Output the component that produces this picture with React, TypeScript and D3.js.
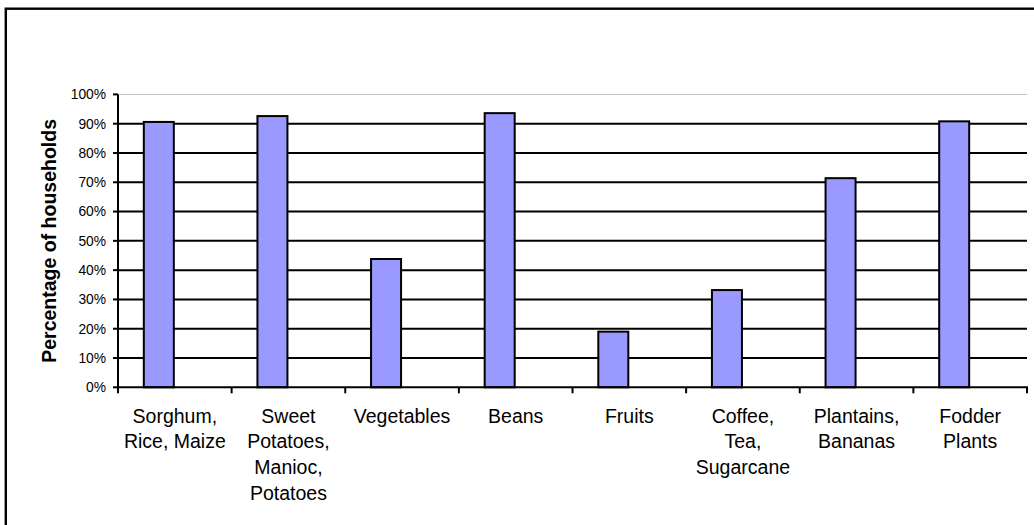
import React from "react";
import * as d3 from "d3";

const categories: string[][] = [
  ["Sorghum,", "Rice, Maize"],
  ["Sweet", "Potatoes,", "Manioc,", "Potatoes"],
  ["Vegetables"],
  ["Beans"],
  ["Fruits"],
  ["Coffee,", "Tea,", "Sugarcane"],
  ["Plantains,", "Bananas"],
  ["Fodder", "Plants"],
];
const values: number[] = [90.6, 92.6, 43.8, 93.6, 19.0, 33.2, 71.4, 90.8];
const yTicks: number[] = [0, 10, 20, 30, 40, 50, 60, 70, 80, 90, 100];
const seriesKeys: string[] = ["households", "blank"];
const yTitle = "Percentage of households";

const W = 1034;
const H = 525;
const plotLeft = 118;
const plotRight = 1027;
const plotTop = 94.4;
const plotBottom = 387.3;
const font = "'Liberation Sans', Arial, Helvetica, sans-serif";

export default function App() {
  const keys = categories.map((c) => c.join(" "));
  const x = d3.scaleBand<string>().domain(keys).range([plotLeft, plotRight]).paddingInner(0).paddingOuter(0);
  const xi = d3
    .scaleBand<string>()
    .domain(seriesKeys)
    .range([0, x.bandwidth()])
    .paddingInner(0)
    .paddingOuter(0.775);
  const y = d3.scaleLinear().domain([0, 100]).range([plotBottom, plotTop]);
  const tickFmt = (v: number) => `${v}%`;

  return (
    <svg
      width={W}
      height={H}
      style={{ position: "absolute", left: 0, top: 0, background: "#fff" }}
      fontFamily={font}
    >
      <rect x={0} y={0} width={W} height={H} fill="#fff" />
      {/* outer frame */}
      <rect x={5.8} y={8.7} width={W + 20} height={H + 20} fill="none" stroke="#000" strokeWidth={2.4} />

      {/* gridlines */}
      {yTicks
        .filter((t) => t > 0)
        .map((t) => (
          <line
            key={`g${t}`}
            x1={plotLeft}
            x2={plotRight}
            y1={y(t)}
            y2={y(t)}
            stroke={t === 100 ? "#c0c0c0" : "#000"}
            strokeWidth={t === 100 ? 1 : 2}
          />
        ))}

      {/* bars */}
      {values.map((v, i) => {
        const bx = (x(keys[i]) as number) + (xi(seriesKeys[0]) as number);
        const bw = xi.bandwidth();
        return (
          <rect
            key={`b${i}`}
            x={bx + 1}
            y={y(v)}
            width={bw - 2}
            height={y(0) - y(v)}
            fill="#9999FF"
            stroke="#000"
            strokeWidth={2}
          />
        );
      })}

      {/* y axis */}
      <line x1={plotLeft} x2={plotLeft} y1={plotTop} y2={plotBottom + 1} stroke="#000" strokeWidth={2} />
      {yTicks.map((t) => (
        <g key={`yt${t}`}>
          <line x1={plotLeft - 5} x2={plotLeft} y1={y(t)} y2={y(t)} stroke="#000" strokeWidth={2} />
          <text x={106} y={y(t)} dy="0.35em" textAnchor="end" fontSize={13.8} fill="#000">
            {tickFmt(t)}
          </text>
        </g>
      ))}

      {/* x axis */}
      <line x1={plotLeft - 1} x2={plotRight + 1} y1={plotBottom} y2={plotBottom} stroke="#000" strokeWidth={2} />
      {[...keys.map((k) => x(k) as number), plotRight].map((bx, i) => (
        <line key={`xt${i}`} x1={bx} x2={bx} y1={plotBottom} y2={plotBottom + 6} stroke="#000" strokeWidth={2} />
      ))}
      {categories.map((lines, i) => {
        const cx = (x(keys[i]) as number) + x.bandwidth() / 2;
        return (
          <text key={`xl${i}`} textAnchor="middle" fontSize={19.5} fill="#000">
            {lines.map((ln, j) => (
              <tspan key={j} x={cx} y={422.7 + j * 25.6}>
                {ln}
              </tspan>
            ))}
          </text>
        );
      })}

      {/* y title */}
      <text
        transform={`translate(55.5, ${(plotTop + plotBottom) / 2}) rotate(-90)`}
        textAnchor="middle"
        fontSize={19.5}
        fontWeight="bold"
        fill="#000"
      >
        {yTitle}
      </text>
    </svg>
  );
}
